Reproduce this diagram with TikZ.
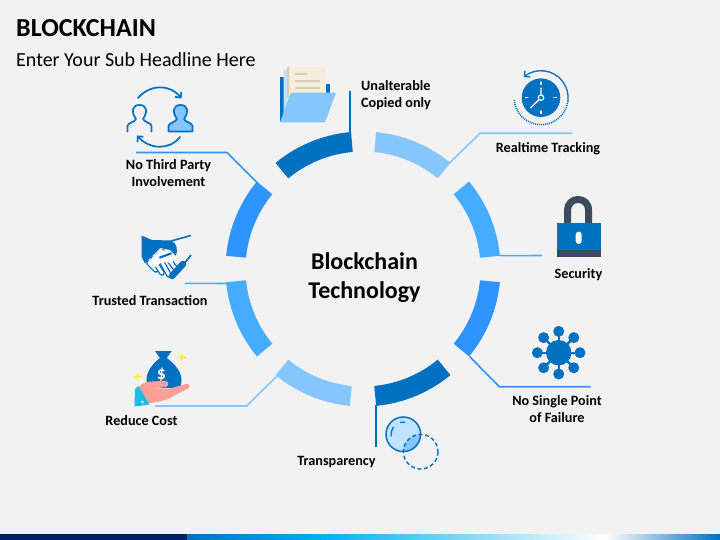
\documentclass[tikz,border=0pt]{standalone}
\usepackage{fontspec}
\usetikzlibrary{arrows.meta}
\setmainfont{Carlito}
\definecolor{bg}{HTML}{F2F2F2}
\definecolor{cdark}{HTML}{0070C0}
\definecolor{clight}{HTML}{85C6FF}
\definecolor{cmid}{HTML}{45ADFF}
\definecolor{cblue}{HTML}{2E94FF}
\definecolor{cnavy}{HTML}{002060}
\definecolor{cbar}{HTML}{00B0F0}
\definecolor{cslate}{HTML}{3B4A5C}
\definecolor{cpaper}{HTML}{F5EEDC}
\definecolor{cline}{HTML}{D3CDB0}
\definecolor{cskin}{HTML}{FF9E94}
\definecolor{ccyan}{HTML}{1FBDE6}
\definecolor{cpale}{HTML}{BFE2FF}
\tikzset{
 lbl/.style={font=\bfseries\fontsize{14.2}{17}\selectfont,align=center,text=black,inner sep=0pt},
 leader/.style={line width=1.6pt,line join=miter},
 iconline/.style={line width=1.7pt,cdark,line cap=round,line join=round},
 barb/.style={-{Straight Barb[length=4pt,width=8pt]}},
 tick/.style={line width=1.2pt,white,line cap=round},
}
\newcommand{\ringarc}[3]{\fill[#1] (#2:137.5) arc[start angle=#2,end angle=#3,radius=137.5] -- (#3:117.5) arc[start angle=#3,end angle=#2,radius=117.5] -- cycle;}
\newcommand{\sparkle}[1]{\fill[yellow] #1 ++(0,-4.5) -- ++(1,3.5) -- ++(3.5,1) -- ++(-3.5,1) -- ++(-1,3.5) -- ++(-1,-3.5) -- ++(-3.5,-1) -- ++(3.5,-1) -- cycle;}
\newcommand{\finger}[2]{\draw[line width=5.6pt,cdark,line cap=round] #1 -- #2; \draw[line width=3pt,white,line cap=round] #1 -- #2;}
\begin{document}
\begin{tikzpicture}[x=1pt,y=-1pt]
\useasboundingbox (0,0) rectangle (720,540);
\fill[bg] (0,0) rectangle (720,540);
% bottom bar
\fill[cnavy] (0,534) rectangle (187,540);
\shade[left color=cdark,right color=cbar] (187,534) rectangle (320,540);
\shade[left color=cbar,right color=white] (320,534) rectangle (605,540);
\shade[left color=white,right color=cdark] (605,534) rectangle (720,540);
% titles
\node[anchor=west,inner sep=0pt,font=\bfseries\fontsize{26}{30}\selectfont] (title) at (16,28) {BLOCKCHAIN};
\node[anchor=west,inner sep=0pt,font=\fontsize{20}{24}\selectfont] (sub) at (16,59.5) {Enter Your Sub Headline Here};
% ring
\begin{scope}[shift={(363,269)},y=1pt]
\ringarc{cdark}{95}{129.5}
\ringarc{clight}{84.5}{50.5}
\ringarc{cmid}{39.5}{5.5}
\ringarc{cblue}{-5.5}{-39.5}
\ringarc{cdark}{-50.5}{-84.5}
\ringarc{clight}{-95.5}{-129.5}
\ringarc{cmid}{-140.5}{-174.5}
\ringarc{cblue}{174.5}{140.5}
\end{scope}
\node[inner sep=0pt,align=center,font=\bfseries\fontsize{24}{29}\selectfont] (center) at (364.5,278) {Blockchain\\Technology};
% labels
\node[lbl,anchor=west,align=left] (unalt) at (361,95) {Unalterable\\Copied only};
\node[lbl] (real) at (548,149) {Realtime Tracking};
\node[lbl] (secu) at (578.5,274.5) {Security};
\node[lbl] (spof) at (557,409.5) {No Single Point\\of Failure};
\node[lbl] (trans) at (336.5,462.5) {Transparency};
\node[lbl] (cost) at (141.5,421) {Reduce Cost};
\node[lbl] (trust) at (150,301) {Trusted Transaction};
\node[lbl] (third) at (168.5,173) {No Third Party\\Involvement};
% leader coordinates
\coordinate (u1) at (350,91); \coordinate (u2) at (350,133);
\coordinate (r1) at (572,133.3); \coordinate (r2) at (480,133.3); \coordinate (r3) at (449.5,163);
\coordinate (s1) at (542,255.5); \coordinate (s2) at (500,255.7);
\coordinate (p1) at (590.7,386.7); \coordinate (p2) at (499.3,386.7); \coordinate (p3) at (469.5,356.5);
\coordinate (t1) at (375.7,447); \coordinate (t2) at (375.7,405);
\coordinate (c1) at (155,406); \coordinate (c2) at (246.7,406); \coordinate (c3) at (277,376);
\coordinate (h1) at (185,283.3); \coordinate (h2) at (228,283.5);
\coordinate (n1) at (136,152.5); \coordinate (n2) at (227,152.5); \coordinate (n3) at (257.5,183);
\draw[leader,draw=cdark] (u1) -- (u2);
\draw[leader,draw=clight] (r1) -- (r2) -- (r3);
\draw[leader,draw=cmid] (s1) -- (s2);
\draw[leader,draw=cblue] (p1) -- (p2) -- (p3);
\draw[leader,draw=cdark] (t1) -- (t2);
\draw[leader,draw=clight] (c1) -- (c2) -- (c3);
\draw[leader,draw=cmid] (h1) -- (h2);
\draw[leader,draw=cblue] (n1) -- (n2) -- (n3);
% folder icon
\fill[cdark] (280,77) -- (283.5,77) -- (283.5,122) -- (280,122) -- cycle;
\fill[cdark] (326,84) -- (330,84) -- (330,95) -- (326,95) -- cycle;
\fill[cpale] (283.5,70) -- (287,69) -- (287,105) -- (283.5,115) -- cycle;
\fill[cpaper] (287,67) -- (326,67) -- (326,95) -- (287,95) -- cycle;
\fill[cline] (287,67) rectangle (289,98);
\draw[line width=1.2pt,cline] (295,74) -- (307,74) (295,81) -- (320,81) (295,88) -- (320,88);
\fill[clight,rounded corners=1pt] (290.7,92.7) -- (336,92.7) -- (325,122.3) -- (280,122.3) -- cycle;
% users icon
\draw[iconline,barb] (138,98) .. controls (150,84) and (170,84) .. (181.5,98.5);
\draw[iconline,barb] (180,137) .. controls (170,150) and (150,150) .. (137,135.5);
\path[iconline,fill=clight,draw] (168.5,131.5) -- (168.5,126) .. controls (168.5,123) and (176,122) .. (177,119) .. controls (172,112) and (173,105) .. (180.5,105) .. controls (188,105) and (189,112) .. (184,119) .. controls (185,122) and (192.5,123) .. (192.5,126) -- (192.5,131.5) -- cycle;
\path[iconline,draw] (127.5,131.5) -- (127.5,126) .. controls (127.5,123) and (135,122) .. (136,119) .. controls (131,112) and (132,105) .. (139.5,105) .. controls (147,105) and (148,112) .. (143,119) .. controls (144,122) and (151.5,123) .. (151.5,126) -- (151.5,131.5);
% clock icon
\fill[cdark] (541,97.7) circle[radius=19.3];
\draw[line width=1.3pt,cdark,line cap=round,barb] (567.9,101) arc[start angle=7,end angle=-130,radius=27];
\draw[line width=1.6pt,cdark,dash pattern=on 1pt off 1pt] (567.9,101) arc[start angle=7,end angle=176,radius=27];
\draw[tick] (541,82) -- (541,84.5) (541,111) -- (541,113.5) (525.5,97.7) -- (528,97.7) (554,97.7) -- (556.5,97.7);
\draw[line width=1.3pt,white,line cap=round] (541,88) -- (541,95) (539,99.7) -- (530.7,107.7);
\draw[line width=1.2pt,white] (541,97.7) circle[radius=2.7];
% lock icon
\draw[line width=7pt,cslate] (567.5,224) -- (567.5,210) arc[start angle=180,end angle=360,radius=10.6] -- (588.7,224);
\fill[cdark] (556.7,222.7) rectangle (600.7,250);
\fill[cslate] (556.7,250) rectangle (600.7,256.7);
\fill[white,rounded corners=3pt] (575.7,231.7) rectangle (581.7,244);
% network icon
\foreach \a in {0,45,...,315}{
 \draw[line width=2.4pt,cdark] (558.7,352.7) -- ++(\a:21.3);
 \fill[cdark] (558.7,352.7) ++(\a:21.3) circle[radius=5.5];
}
\fill[cdark] (558.7,352.7) circle[radius=12.7];
% venn icon
\fill[cpale] (403.3,434.3) circle[radius=17.3];
\begin{scope}
\clip (403.3,434.3) circle[radius=17.3];
\fill[clight] (420.7,451.7) circle[radius=17.3];
\end{scope}
\draw[line width=1.5pt,cdark] (403.3,434.3) circle[radius=17.3];
\draw[line width=1.4pt,cdark,dash pattern=on 4pt off 2.6pt] (420.7,451.7) circle[radius=17.3];
\draw[line width=1.3pt,cdark,line cap=round] (391.2,436) arc[start angle=172,end angle=215,radius=12.2];
\draw[line width=1.3pt,cdark,line cap=round] (400.5,422.4) arc[start angle=-103,end angle=-83,radius=12.2];
% handshake icon
\draw[line width=1.6pt,cdark] (171,241) -- (191,235.5);
\draw[line width=1.6pt,cdark] (191,255) -- (184,264);
\finger{(149,263)}{(156,270)}
\finger{(153,259)}{(162,273)}
\finger{(158,255)}{(169,275)}
\finger{(163,252)}{(175,268)}
\fill[cdark] (141.7,235.7) -- (152,240) -- (171,240.5) .. controls (177,243) and (178,250) .. (176,256) -- (170,250) -- (160,248) -- (150,258) -- (145,263.5) -- (141.7,257) -- cycle;
\fill[white] (147.5,262.5) -- (160,250) -- (170,251) -- (175,257) -- (172,263) -- (162,262) -- (155,267) -- cycle;
\draw[line width=2.2pt,cdark,line cap=round] (160,257.5) -- (171,253.5);
\draw[line width=6.5pt,cdark,line cap=round] (183,264) -- (172,276);
% money icon
\fill[cdark] (155,351) -- (171.7,351) -- (166.7,358) -- (160,358) -- cycle;
\fill[cdark] (160,358) .. controls (152,364) and (146.5,372) .. (146.5,380) .. controls (146.5,384) and (147,387) .. (149,388) -- (179,388) .. controls (181,387) and (181.5,384) .. (181.5,380) .. controls (181.5,372) and (175,364) .. (166.7,358) -- cycle;
\node[inner sep=0pt,text=white,font=\bfseries\fontsize{18}{18}\selectfont] (dollar) at (161.5,374.5) {\$};
\fill[cskin] (139,387) .. controls (143,382) and (148,381.5) .. (152,381.5) -- (166,380.8) .. controls (169,382) and (169,386) .. (166,387) -- (154,388.5) -- (170,388.5) -- (186,384) .. controls (190,383.5) and (191,387) .. (188,388.5) -- (168,399) .. controls (160,402) and (152,403) .. (147,403) -- cycle;
\fill[ccyan] (135,389) -- (138.5,386) -- (149.5,404.5) -- (134.5,406.5) -- cycle;
\fill[white!70!ccyan] (142.5,402) circle[radius=1.6];
\sparkle{(181.7,357.3)}
\sparkle{(137.7,376.7)}
\end{tikzpicture}
\end{document}
